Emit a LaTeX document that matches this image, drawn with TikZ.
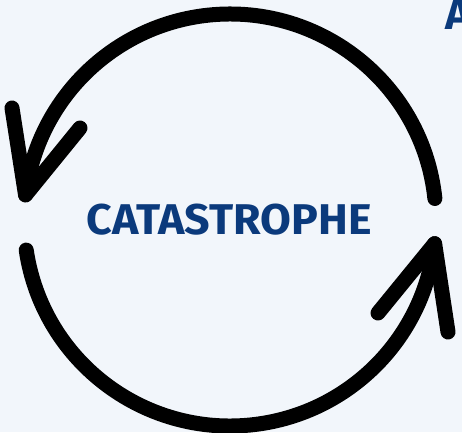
\documentclass[tikz,border=0pt]{standalone}
\usepackage{fontspec}
\setmainfont{Fira Sans}
\usepackage{tikz}
\usetikzlibrary{positioning}
\definecolor{navy}{HTML}{0B3A7C}
\definecolor{paper}{HTML}{F2F6FB}

\begin{document}
\begin{tikzpicture}[x=1pt,y=1pt,
   cyc/.style={draw=black,line width=15pt,line cap=round,line join=round},
   word/.style={text=navy,inner sep=0pt,font=\bfseries\fontsize{43}{43}\selectfont}]
  \fill[paper] (0,0) rectangle (462,432);
  \useasboundingbox (0,0) rectangle (462,432);
  \coordinate (c) at (230,212);
  \node[word,xscale=1.04,transform shape] (cat) at (229,212) {CATASTROPHE};
  \node[word,anchor=base west] (ttl) at (445,402) {A};
  \draw[cyc] ([shift={(6:206pt)}]c) arc[start angle=6,end angle=173,radius=206pt] coordinate (lv);
  \draw[cyc] ([shift={(188.4:206pt)}]c) arc[start angle=188.4,end angle=353.4,radius=206pt] coordinate (rv);
  \coordinate (la) at (12,324);
  \coordinate (lb) at (80,304);
  \coordinate (ra) at (378,119);
  \coordinate (rb) at (448,100);
  \draw[cyc] (la) -- (lv) -- (lb);
  \draw[cyc] (ra) -- (rv) -- (rb);
\end{tikzpicture}
\end{document}
